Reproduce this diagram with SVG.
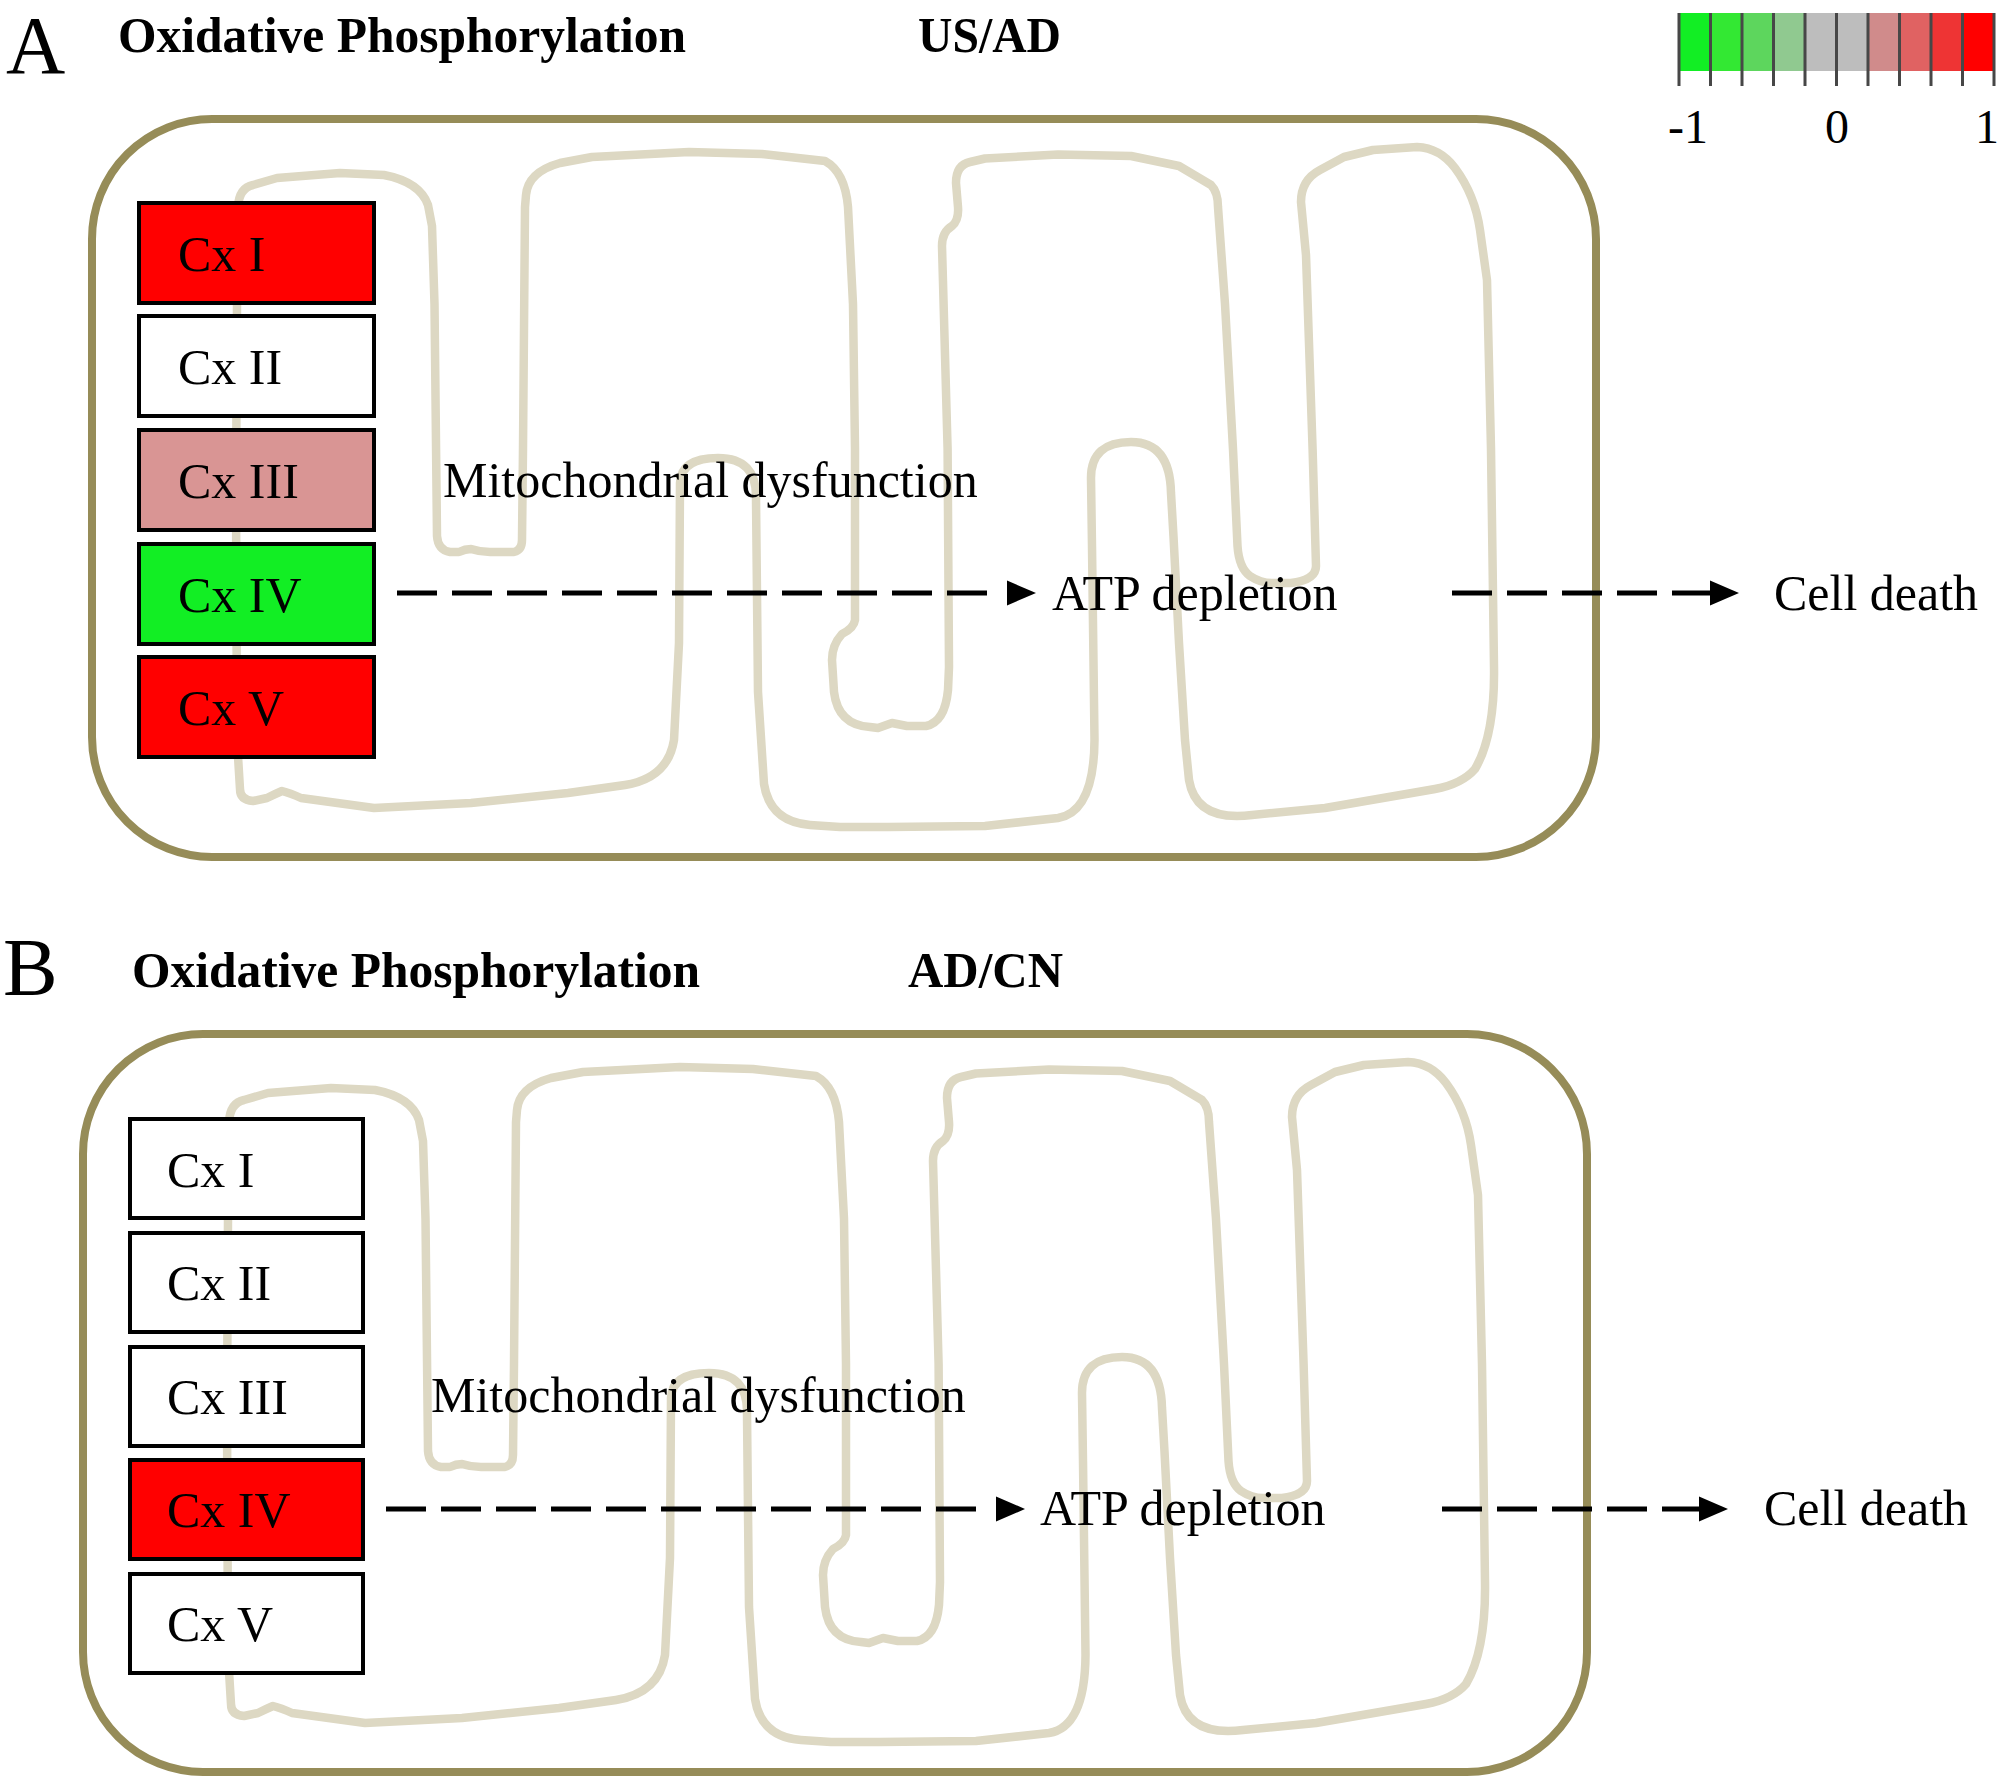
<svg xmlns="http://www.w3.org/2000/svg" xmlns:xlink="http://www.w3.org/1999/xlink" width="2000" height="1782" viewBox="0 0 2000 1782">
<style>
text{font-family:"Liberation Serif","Times New Roman",serif;fill:#000}
.panel{font-size:82px}
.title{font-size:50px;font-weight:bold}
.lbl{font-size:50px}
.leg{font-size:48px}
.box{stroke:#000;stroke-width:4}
.outer{fill:none;stroke:#968c58;stroke-width:8}
.mem{fill:none;stroke:#ddd8c3;stroke-width:8.5;stroke-linejoin:round}
.dash{stroke:#000;stroke-width:5;stroke-dasharray:40 15;fill:none}
.tick{stroke:#474747;stroke-width:3}
</style>
<defs>
<marker id="headGap" markerUnits="userSpaceOnUse" markerWidth="60" markerHeight="30" viewBox="0 -15 60 30" refX="0" refY="0" orient="auto" overflow="visible"><path d="M20,-12.5 L49,0 L20,12.5 Z" fill="#000"/></marker>
<marker id="headJoin" markerUnits="userSpaceOnUse" markerWidth="40" markerHeight="30" viewBox="0 -15 40 30" refX="0" refY="0" orient="auto" overflow="visible"><path d="M-2,-12.5 L27,0 L-2,12.5 Z" fill="#000"/></marker>
<rect id="outerShape" class="outer" x="92" y="119" width="1504" height="738" rx="120" ry="120"/>
<path id="membrane" class="mem" d="M238,207 Q239,188 253,185 L277,178 L340,173 L384,175 Q420,182 428,205 L432,226 L434.5,304 L437,536 Q438,550 450,552 L459,552 Q465,549 471,549 Q480,552 490,552 L514,552 Q522,550 522,540 L523,449 L525,207 L526,195 Q528,172 560,163 L592,157 L689,152 L762,154 L825,161 Q845,172 848,207 L853,304 L855,449 L855,620 Q854,628 842,634 Q832,645 832,660 L834,692 Q838,725 870,727 L878,728 L892,723 L907,726 L926,726 Q945,722 948,690 L949,667 L947.6,449 L942,246 Q942,232 952,226 Q959,220 958,207 L956,183 Q956,165 970,162 L985,158.5 L1058,154.6 L1131,156 L1179,166 L1211,185 Q1218,192 1218,207 L1225,304 L1233,449 L1237.5,546 Q1239,568 1250,576 Q1262,584 1275,583 L1291,583 Q1316,580 1316,566 L1312.6,449 L1306,255 L1301,202 Q1301,180 1320,170 L1344,157 L1373,150 L1417,147 Q1440,148 1455,168 Q1475,195 1480,230 L1487,280 L1491,449 L1494,667 Q1495,735 1475,769 Q1462,784 1435,789 L1412,793 L1325,808 L1252,815 Q1196,822 1189,780 L1185,740 L1179,643 L1173.5,536.5 L1171,493 Q1170,442 1131,442 Q1091,442 1091,478 L1092,546 L1094.5,740 Q1094,812 1058,818 L985,826 L888,827 L840,827 L810,825 Q770,822 764,784 L758,692 L756,498 Q757,458 718,458 Q681,458 680,483 L679,643 L674,740 Q668,778 625,785 L568,793 L471,803 L374,808 L301,798 Q290,793 282,791 Q275,794 267,798 L253,801 Q240,800 240,789 L237,740 L236,498 L237,304 Z"/>
</defs>
<rect width="2000" height="1782" fill="#fff"/>

<!-- Legend -->
<g id="legend">
<rect x="1679" y="13" width="31.5" height="58" fill="#12ee24"/>
<rect x="1710.5" y="13" width="31.5" height="58" fill="#33e833"/>
<rect x="1742" y="13" width="31.5" height="58" fill="#5dd65d"/>
<rect x="1773.5" y="13" width="31.5" height="58" fill="#90c990"/>
<rect x="1805" y="13" width="31.5" height="58" fill="#bdbdbd"/>
<rect x="1836.5" y="13" width="31.5" height="58" fill="#bdbdbd"/>
<rect x="1868" y="13" width="31.5" height="58" fill="#d08b8b"/>
<rect x="1899.5" y="13" width="31.5" height="58" fill="#e06262"/>
<rect x="1931" y="13" width="31.5" height="58" fill="#ee3434"/>
<rect x="1962.5" y="13" width="31.5" height="58" fill="#ff0000"/>
<path class="tick" d="M1679,13V86 M1710.5,13V86 M1742,13V86 M1773.5,13V86 M1805,13V86 M1836.5,13V86 M1868,13V86 M1899.5,13V86 M1931,13V86 M1962.5,13V86 M1994,13V86"/>
<text class="leg" x="1668" y="143">-1</text>
<text class="leg" x="1837" y="143" text-anchor="middle">0</text>
<text class="leg" x="1987" y="143" text-anchor="middle">1</text>
</g>

<!-- Panel A -->
<g id="A-header">
<text class="panel" x="6" y="73">A</text>
<text class="title" x="118" y="52" textLength="568" lengthAdjust="spacingAndGlyphs">Oxidative Phosphorylation</text>
<text class="title" x="918" y="52" textLength="143" lengthAdjust="spacingAndGlyphs">US/AD</text>
</g>
<g id="A-mitochondrion">
<use xlink:href="#outerShape" href="#outerShape"/>
<use xlink:href="#membrane" href="#membrane"/>
</g>
<g id="A-cx1"><rect class="box" x="139" y="203" width="235" height="100" fill="#ff0000"/><text class="lbl" x="178" y="271">Cx I</text></g>
<g id="A-cx2"><rect class="box" x="139" y="316" width="235" height="100" fill="#ffffff"/><text class="lbl" x="178" y="384">Cx II</text></g>
<g id="A-cx3"><rect class="box" x="139" y="430" width="235" height="100" fill="#d99594"/><text class="lbl" x="178" y="498">Cx III</text></g>
<g id="A-cx4"><rect class="box" x="139" y="544" width="235" height="100" fill="#12ee24"/><text class="lbl" x="178" y="612">Cx IV</text></g>
<g id="A-cx5"><rect class="box" x="139" y="657" width="235" height="100" fill="#ff0000"/><text class="lbl" x="178" y="725">Cx V</text></g>
<g id="A-dysfunction"><text class="lbl" x="443" y="497">Mitochondrial dysfunction</text></g>
<g id="A-atp"><text class="lbl" x="1052" y="610">ATP depletion</text></g>
<g id="A-death"><text class="lbl" x="1774" y="610">Cell death</text></g>

<!-- Panel B -->
<g id="B-header">
<text class="panel" x="3" y="995">B</text>
<text class="title" x="132" y="987" textLength="568" lengthAdjust="spacingAndGlyphs">Oxidative Phosphorylation</text>
<text class="title" x="908" y="987" textLength="155" lengthAdjust="spacingAndGlyphs">AD/CN</text>
</g>
<g id="B-mitochondrion" transform="translate(-9,915)">
<use xlink:href="#outerShape" href="#outerShape"/>
<use xlink:href="#membrane" href="#membrane"/>
</g>
<g id="B-cx1"><rect class="box" x="130" y="1119" width="233" height="99" fill="#ffffff"/><text class="lbl" x="167" y="1187">Cx I</text></g>
<g id="B-cx2"><rect class="box" x="130" y="1233" width="233" height="99" fill="#ffffff"/><text class="lbl" x="167" y="1300">Cx II</text></g>
<g id="B-cx3"><rect class="box" x="130" y="1347" width="233" height="99" fill="#ffffff"/><text class="lbl" x="167" y="1414">Cx III</text></g>
<g id="B-cx4"><rect class="box" x="130" y="1460" width="233" height="99" fill="#ff0000"/><text class="lbl" x="167" y="1527">Cx IV</text></g>
<g id="B-cx5"><rect class="box" x="130" y="1574" width="233" height="99" fill="#ffffff"/><text class="lbl" x="167" y="1641">Cx V</text></g>
<g id="B-dysfunction"><text class="lbl" x="431" y="1412">Mitochondrial dysfunction</text></g>
<g id="B-atp"><text class="lbl" x="1040" y="1525">ATP depletion</text></g>
<g id="B-death"><text class="lbl" x="1764" y="1525">Cell death</text></g>

<!-- Connectors -->
<g id="connectors">
<line class="dash" x1="397" y1="593" x2="987" y2="593" marker-end="url(#headGap)"/>
<line class="dash" x1="1452" y1="593" x2="1712" y2="593" marker-end="url(#headJoin)"/>
<line class="dash" x1="386" y1="1509" x2="976" y2="1509" marker-end="url(#headGap)"/>
<line class="dash" x1="1442" y1="1509" x2="1701" y2="1509" marker-end="url(#headJoin)"/>
</g>
</svg>
